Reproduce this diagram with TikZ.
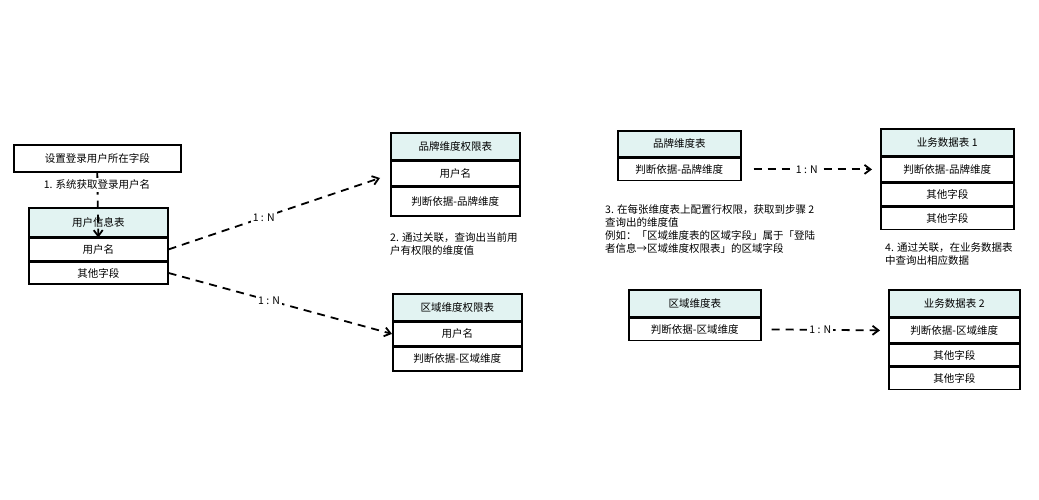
\documentclass[tikz,border=0pt]{standalone}
\usepackage{fontspec}
\setmainfont{Noto Sans CJK SC}
\usetikzlibrary{positioning, arrows.meta}
\definecolor{hdrcyan}{RGB}{226,243,242}
\tikzset{
    hdr/.style={draw,line width=1.6pt,fill=hdrcyan,minimum height=#1,inner sep=0pt,font=\fontsize{10.5}{12}\selectfont},
    cell/.style={draw,line width=1.6pt,fill=white,minimum height=#1,inner sep=0pt,font=\fontsize{10.5}{12}\selectfont},
    link/.style={line width=1.8pt,dash pattern=on 8pt off 6pt,-{Straight Barb[length=6pt,width=9pt]}},
    lbl/.style={fill=white,inner sep=2pt,font=\fontsize{10.5}{12}\selectfont},
    note/.style={align=left,anchor=north west,inner sep=0pt,font=\fontsize{10.5}{13}\selectfont}
}
\begin{document}
\begin{tikzpicture}[x=1pt,y=-1pt]
        % Canvas
        \useasboundingbox[fill=white] (0,0) rectangle (1039,500);
        % Login field box
        \node[cell=27pt,minimum width=167pt,anchor=north west] (login) at (13,144) {设置登录用户所在字段};
        % User table
        \node[hdr=29pt,minimum width=139pt,anchor=north west] (user) at (28,207) {用户信息表};
        \node[cell=22pt,minimum width=139pt,below=0pt of user] (userName) {用户名};
        \node[cell=22pt,minimum width=139pt,below=0pt of userName] (userOther) {其他字段};
        % Brand permission table
        \node[hdr=27pt,minimum width=129pt,anchor=north west] (brandPerm) at (390,132) {品牌维度权限表};
        \node[cell=24pt,minimum width=129pt,below=0pt of brandPerm] (brandPermName) {用户名};
        \node[cell=29pt,minimum width=129pt,below=0pt of brandPermName] (brandPermDim) {判断依据-品牌维度};
        % Region permission table
        \node[hdr=27pt,minimum width=129pt,anchor=north west] (areaPerm) at (392,293) {区域维度权限表};
        \node[cell=23pt,minimum width=129pt,below=0pt of areaPerm] (areaPermName) {用户名};
        \node[cell=24pt,minimum width=129pt,below=0pt of areaPermName] (areaPermDim) {判断依据-区域维度};
        % Brand dimension table
        \node[hdr=26pt,minimum width=123pt,anchor=north west] (brandDim) at (617,130) {品牌维度表};
        \node[cell=22pt,minimum width=123pt,below=0pt of brandDim] (brandDimKey) {判断依据-品牌维度};
        % Region dimension table
        \node[hdr=27pt,minimum width=132pt,anchor=north west] (areaDim) at (628,289) {区域维度表};
        \node[cell=22pt,minimum width=132pt,below=0pt of areaDim] (areaDimKey) {判断依据-区域维度};
        % Business table 1
        \node[hdr=27pt,minimum width=133pt,anchor=north west] (biz1) at (880,128) {业务数据表 1};
        \node[cell=24pt,minimum width=133pt,below=0pt of biz1] (biz1Key) {判断依据-品牌维度};
        \node[cell=23pt,minimum width=133pt,below=0pt of biz1Key] (biz1A) {其他字段};
        \node[cell=22pt,minimum width=133pt,below=0pt of biz1A] (biz1B) {其他字段};
        % Business table 2
        \node[hdr=27pt,minimum width=131pt,anchor=north west] (biz2) at (888,289) {业务数据表 2};
        \node[cell=24pt,minimum width=131pt,below=0pt of biz2] (biz2Key) {判断依据-区域维度};
        \node[cell=22pt,minimum width=131pt,below=0pt of biz2Key] (biz2A) {其他字段};
        \node[cell=22pt,minimum width=131pt,below=0pt of biz2A] (biz2B) {其他字段};
        % Step 1
        \draw[link] (login.south) -- (user.south);
        \node[lbl] (step1) at (97,185) {1. 系统获取登录用户名};
        % One to many links
        \coordinate (brandTip) at (380,178);
        \draw[link] (userName.east) -- (brandTip) node[lbl,pos=0.45] (lbl1) {1 : N};
        \draw[link] (userOther.east) -- (areaPermName.west) node[lbl,pos=0.45] (lbl2) {1 : N};
        \draw[link] ([xshift=12pt]brandDimKey.east) -- ([xshift=-8pt]biz1Key.west) node[lbl,pos=0.45] (lbl3) {1 : N};
        \draw[link] ([xshift=10pt]areaDimKey.east) -- ([xshift=-8pt]biz2Key.west) node[lbl,pos=0.45] (lbl4) {1 : N};
        % Notes
        \node[note] (step2) at (390,232) {2. 通过关联，查询出当前用\\户有权限的维度值};
        \node[note] (step3) at (605,204) {3. 在每张维度表上配置行权限，获取到步骤 2\\查询出的维度值\\例如：「区域维度表的区域字段」属于「登陆\\者信息→区域维度权限表」的区域字段};
        \node[note] (step4) at (885,242) {4. 通过关联，在业务数据表\\中查询出相应数据};
\end{tikzpicture}
\end{document}
